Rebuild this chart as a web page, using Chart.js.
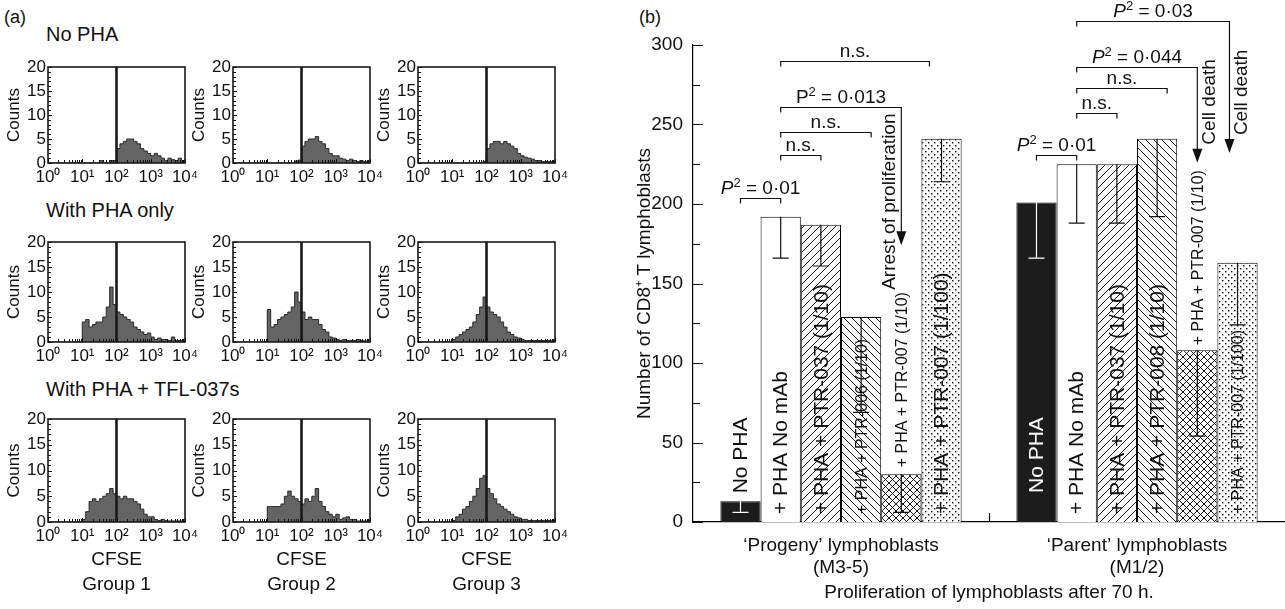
<!DOCTYPE html>
<html>
<head>
<meta charset="utf-8">
<script src="https://cdn.jsdelivr.net/npm/chart.js@4.4.1/dist/chart.umd.min.js"></script>
<style>
  html, body { margin: 0; padding: 0; background: #fff; }
  body { width: 1285px; height: 609px; position: relative; overflow: hidden;
         font-family: "Liberation Sans", Arial, Helvetica, sans-serif; color: #111; }
  canvas { position: absolute; }
  .txt { position: absolute; white-space: nowrap; line-height: 1; }
</style>
</head>
<body>
<script>
// ──────────────────────────────────────────────
// (a) CFSE histograms — 40 channels of 0.1 decade, 10^0 .. 10^4
// ──────────────────────────────────────────────
const rowTitles = ['No PHA', 'With PHA only', 'With PHA + TFL-037s'];
const groupNames = ['Group 1', 'Group 2', 'Group 3'];
const decadeTicks = ['10⁰', '10¹', '10²', '10³', '10⁴'];
const countTicks = [0, 5, 10, 15, 20];
const gateCFSE = 100;

const noPha1 = [0,0,0,0,0,0,0,0,0,0, 0,0,0,0,0,0.5,0,0,0.5,0.5, 3,4,4.5,5,5,4.5,4,3,2.5,2, 1.5,2,1.5,1,0.5,1,0.7,0.5,1,0.5];
const noPha2 = [0,0,0,0,0,0,0,0,0,0, 0,0,0,0,0,0,0,0,0.4,0.6, 3.5,4.5,5,5,5.5,4.5,4,3,2,1.5, 1.5,1,0.8,0.5,0.8,0.5,0.3,0.5,0.3,0.3];
const noPha3 = [0,0,0,0,0,0,0,0,0,0, 0,0,0,0,0,0,0,0,0,0.3, 3,4,4.5,4.5,4,4.5,4,3.5,3,2, 1.5,1.2,1,0.8,0.5,0.5,0.3,0.3,0.3,0.3];
const pha1   = [0,0,0,0,0,0,0,0,0,0, 4,4.5,3,3.5,4,4,5,7,11,7.5, 6,5.5,5,4.5,4,3,2.5,2,1.5,1.8, 1,0.5,0.8,0.5,0.5,0.3,1,0.3,0.3,0.3];
const pha2   = [0,0,0,0,0,0,0,0,0,0, 6.5,3,3.5,4.5,5,5.5,6,7,10,8, 6,4.5,5,4.5,4.5,3.5,2.5,2,1,0.8, 0.5,0.3,0.5,0.3,0.3,0.3,0.5,0.3,0.2,0.2];
const pha3   = [0,0,0,0,0,0,0,0,0,0, 0.5,1,1.5,2,2.5,3,4,5.5,7,9, 7,6,5.5,5,4,3,2,1.5,1,0.8, 0.5,0.3,0.3,0.3,0.3,0.3,0.3,0.3,0.3,0.3];
const tfl1   = [0,0,0,0,0,0,0,0,0,0, 0.5,2,4,4.5,4,4.5,5,5.5,6.5,5.5, 5,4.5,5,4.5,4.5,4,3.5,2.5,1.5,1, 1,0.5,0.3,0.5,0.3,0.2,0.2,0.2,0.2,0.2];
const tfl2   = [0,0,0,0,0,0,0,0,0,0, 3,3,3,3,3.5,5,6,5,4.5,4, 3.5,4.5,4,5,6.5,4,3,2,1.5,1, 1.5,0.5,0.8,1,0.5,0.5,0.2,0.2,0.2,0.2];
const tfl3   = [0,0,0,0,0,0,0,0,0,0, 0.3,1,1.5,2.5,3,4,5,6.5,8.5,9, 6.5,5.5,4.5,3.5,3,2.5,2,1.5,1,0.8, 0.5,0.5,0.3,0.3,0.3,0.3,0.3,0.3,0.3,0.3];
const histRows = [[noPha1, noPha2, noPha3], [pha1, pha2, pha3], [tfl1, tfl2, tfl3]];

// ──────────────────────────────────────────────
// (b) CD8+ T lymphoblast counts after 70 h
// ──────────────────────────────────────────────
const groupLabels = [['‘Progeny’ lymphoblasts', '(M3-5)'], ['‘Parent’ lymphoblasts', '(M1/2)']];
const progenyBars = ['No PHA', '+ PHA No mAb', '+ PHA + PTR-037 (1/10)', '+ PHA + PTR-006 (1/10)', '+ PHA + PTR-007 (1/10)', '+ PHA + PTR-007 (1/100)'];
const parentBars  = ['No PHA', '+ PHA No mAb', '+ PHA + PTR-037 (1/10)', '+ PHA + PTR-008 (1/10)', '+ PHA + PTR-007 (1/10)', '+ PHA + PTR-007 (1/100)'];
const progenyMean  = [13, 192, 187, 129, 30, 241];
const progenyLower = [6, 166, 161, 69, 6, 214];
const parentMean   = [201, 225, 225, 241, 108, 163];
const parentLower  = [166, 188, 188, 192, 54, 124];
const countTicksB = [0, 50, 100, 150, 200, 250, 300];

// significance brackets: group, from bar, to bar, height (counts)
const comparisons = [
  { group: 0, from: 0, to: 1,    at: 204, text: 'P² = 0·01', italic: true },
  { group: 0, from: 1, to: 2,    at: 231, text: 'n.s.' },
  { group: 0, from: 1, to: 3.25, at: 245, text: 'n.s.' },
  { group: 0, from: 1, to: 4,    at: 261, text: 'P² = 0·013', arrowTo: 174, note: 'Arrest of proliferation', side: -1, anchor: 'top' },
  { group: 0, from: 1, to: 4.7,  at: 290, text: 'n.s.' },
  { group: 1, from: 0, to: 1,    at: 231, text: 'P² = 0·01', italic: true },
  { group: 1, from: 1, to: 2,    at: 257, text: 'n.s.' },
  { group: 1, from: 1, to: 3.25, at: 273, text: 'n.s.' },
  { group: 1, from: 1, to: 4,    at: 286, text: 'P² = 0·044', italic: true, arrowTo: 226, note: 'Cell death', side: 1, anchor: 'tip' },
  { group: 1, from: 1, to: 4.8,  at: 315, text: 'P² = 0·03', italic: true, arrowTo: 232, note: 'Cell death', side: 1, anchor: 'tip' },
];

// label styling per bar (small font / sits on top of bar / gap in px)
const progenyLabelSmall = [false, false, false, true, true, false];
const progenyLabelAbove = [true, false, false, false, true, false];
const progenyLabelGap   = [8, 8, 8, 8, 7, 8];
const parentLabelSmall  = [false, false, false, false, true, true];
const parentLabelAbove  = [false, false, false, false, true, false];
const parentLabelGap    = [29, 8, 8, 8, 5, 8];

const FAMILY = '"Liberation Sans", Arial, Helvetica, sans-serif';
Chart.defaults.font.family = FAMILY;
Chart.defaults.color = '#111';

function text(str, x, y, size, center) {
  const d = document.createElement('div');
  d.className = 'txt';
  d.textContent = str;
  d.style.left = x + 'px';
  d.style.top = y + 'px';
  d.style.fontSize = size + 'px';
  d.style.transform = center ? 'translate(-50%,-50%)' : 'translateY(-50%)';
  document.body.appendChild(d);
}

function canvasAt(left, top, w, h) {
  const c = document.createElement('canvas');
  c.width = w; c.height = h;
  c.style.left = left + 'px'; c.style.top = top + 'px';
  document.body.appendChild(c);
  return c;
}

// inward tick marks
const innerTicks = {
  id: 'innerTicks',
  afterDraw(chart, args, o) {
    const { ctx, chartArea: a, scales } = chart;
    ctx.save();
    ctx.strokeStyle = '#111';
    ctx.lineWidth = o.width || 1;
    ctx.beginPath();
    if (o.y) scales.y.ticks.forEach((t, i) => {
      const p = Math.round(scales.y.getPixelForTick(i)) + 0.5;
      const len = t.label === '' ? o.y[1] : o.y[0];
      ctx.moveTo(a.left, p); ctx.lineTo(a.left + len, p);
    });
    if (o.x) scales.x.ticks.forEach((t, i) => {
      const p = Math.round(scales.x.getPixelForTick(i)) + 0.5;
      const len = t.label === '' ? o.x[1] : o.x[0];
      ctx.moveTo(p, a.bottom); ctx.lineTo(p, a.bottom - len);
    });
    ctx.stroke();
    ctx.restore();
  }
};

const frameAndGate = {
  id: 'frameAndGate',
  afterDraw(chart, args, o) {
    const { ctx, chartArea: a, scales } = chart;
    ctx.save();
    ctx.strokeStyle = '#1a1a1a';
    ctx.lineWidth = 1.6;
    ctx.strokeRect(a.left, a.top, a.width, a.height);
    const gx = scales.x.getPixelForValue(o.gate);
    ctx.lineWidth = 2.6;
    ctx.beginPath(); ctx.moveTo(gx, a.top); ctx.lineTo(gx, a.bottom); ctx.stroke();
    ctx.restore();
  }
};

const logTickValues = [];
for (let d = 0; d < 4; d++) for (let k = 1; k <= 9; k++) logTickValues.push(k * Math.pow(10, d));
logTickValues.push(1e4);

function histogram(canvas, counts) {
  const pts = counts.map((c, i) => ({ x: Math.pow(10, i / 10), y: c }));
  pts.push({ x: 1e4, y: counts[counts.length - 1] });
  return new Chart(canvas, {
    type: 'line',
    data: { datasets: [{ data: pts, stepped: 'before', fill: 'origin', backgroundColor: '#646464',
                         borderColor: '#2a2a2a', borderWidth: 1, pointRadius: 0 }] },
    options: {
      responsive: false, animation: false, devicePixelRatio: 1,
      layout: { padding: { top: 12, right: 16, left: 0, bottom: 0 } },
      plugins: { legend: { display: false }, tooltip: { enabled: false },
                 innerTicks: { x: [4, 3], y: [4, 3] }, frameAndGate: { gate: gateCFSE } },
      scales: {
        x: {
          type: 'logarithmic', min: 1, max: 1e4,
          afterBuildTicks: s => { s.ticks = logTickValues.map(v => ({ value: v })); },
          afterFit: s => { s.height = 26; s.paddingLeft = 0; s.paddingRight = 0; },
          grid: { display: false, drawTicks: false }, border: { display: false },
          ticks: { autoSkip: false, maxRotation: 0, padding: 4, font: { size: 17 },
                   callback: v => { const e = Math.round(Math.log10(v)); return Math.abs(Math.pow(10, e) - v) < 1e-9 ? decadeTicks[e] : ''; } }
        },
        y: {
          min: 0, max: 20,
          afterFit: s => { s.width = 46; s.paddingTop = 0; s.paddingBottom = 0; },
          grid: { display: false, drawTicks: false }, border: { display: false },
          ticks: { stepSize: 1, autoSkip: false, padding: 2, font: { size: 17 },
                   callback: v => countTicks.includes(v) ? String(v) : '' },
          title: { display: true, text: 'Counts', font: { size: 17 }, padding: { top: 2, bottom: 0 } }
        }
      }
    },
    plugins: [innerTicks, frameAndGate]
  });
}

// panel (a) layout
const colLeft = [48, 233, 418];
const plotW = 137;
const rowTop = [67, 242, 419];
const rowH = [96, 100, 103];
const titleY = [34, 210, 389];

text('(a)', 4, 17, 18);
histRows.forEach((row, r) => {
  text(rowTitles[r], 46, titleY[r], 20);
  row.forEach((counts, c) => {
    const cv = canvasAt(colLeft[c] - 46, rowTop[r] - 12, 46 + plotW + 16, 12 + rowH[r] + 26);
    histogram(cv, counts);
  });
});
groupNames.forEach((g, c) => {
  text('CFSE', colLeft[c] + plotW / 2, 558, 19, true);
  text(g, colLeft[c] + plotW / 2, 583, 19, true);
});

// ──────────────────────────────────────────────
// (b) bar chart
// ──────────────────────────────────────────────
function tile(kind, s) {
  const c = document.createElement('canvas');
  c.width = c.height = s;
  const g = c.getContext('2d');
  g.fillStyle = '#fff'; g.fillRect(0, 0, s, s);
  g.strokeStyle = '#000'; g.fillStyle = '#000'; g.lineWidth = 0.9;
  const fwd = () => { g.beginPath(); g.moveTo(-1, s + 1); g.lineTo(s + 1, -1); g.moveTo(-1, 1); g.lineTo(1, -1);
                      g.moveTo(s - 1, s + 1); g.lineTo(s + 1, s - 1); g.stroke(); };
  const back = () => { g.beginPath(); g.moveTo(-1, -1); g.lineTo(s + 1, s + 1); g.moveTo(s - 1, -1); g.lineTo(s + 1, 1);
                       g.moveTo(-1, s - 1); g.lineTo(1, s + 1); g.stroke(); };
  if (kind === 'fwd') fwd();
  if (kind === 'back') back();
  if (kind === 'cross') { fwd(); back(); }
  if (kind === 'dots') { g.fillRect(1, 1, 1.4, 1.4); g.fillRect(4, 4, 1.4, 1.4); }
  return g.createPattern(c, 'repeat');
}
const barFills = ['#1c1c1c', '#ffffff', tile('fwd', 8), tile('back', 8), tile('cross', 7), tile('dots', 6)];

function barX(chart, g, pos) {
  const i = Math.floor(pos), f = pos - i;
  const a = chart.getDatasetMeta(i).data[g];
  if (!f) return a.x;
  const b = chart.getDatasetMeta(Math.min(i + 1, 5)).data[g];
  return a.x + f * (b.x - a.x);
}

function drawStat(ctx, str, italic, cx, base) {
  ctx.textBaseline = 'alphabetic';
  ctx.textAlign = 'left';
  if (str.indexOf('P²') !== 0) {
    ctx.font = '19px ' + FAMILY;
    ctx.textAlign = 'center';
    ctx.fillText(str, cx, base);
    return;
  }
  const rest = str.slice(2);
  const fP = (italic ? 'italic ' : '') + '19px ' + FAMILY, fS = '13px ' + FAMILY, fR = '19px ' + FAMILY;
  ctx.font = fP; const wP = ctx.measureText('P').width;
  ctx.font = fS; const wS = ctx.measureText('2').width;
  ctx.font = fR; const wR = ctx.measureText(rest).width;
  let x = cx - (wP + wS + wR) / 2;
  ctx.font = fP; ctx.fillText('P', x, base); x += wP;
  ctx.font = fS; ctx.fillText('2', x, base - 7); x += wS;
  ctx.font = fR; ctx.fillText(rest, x, base);
}

const barNotes = {
  id: 'barNotes',
  afterDatasetsDraw(chart) {
    const { ctx, scales: { y } } = chart;
    const sets = [[progenyBars, progenyLabelSmall, progenyLabelAbove, progenyLabelGap, progenyLower],
                  [parentBars, parentLabelSmall, parentLabelAbove, parentLabelGap, parentLower]];
    sets.forEach(([names, small, above, gap, lower], g) => {
      names.forEach((name, i) => {
        const bar = chart.getDatasetMeta(i).data[g];
        ctx.save();
        ctx.font = (small[i] ? 16 : 21) + 'px ' + FAMILY;
        ctx.fillStyle = (i === 0 && !above[i]) ? '#fff' : '#111';
        ctx.translate(bar.x, (above[i] ? bar.y : bar.base) - gap[i]);
        ctx.rotate(-Math.PI / 2);
        ctx.textAlign = 'left';
        ctx.textBaseline = 'middle';
        ctx.fillText(name, 0, 1);
        ctx.restore();

        // lower error bar
        const yl = y.getPixelForValue(lower[i]);
        ctx.save();
        ctx.strokeStyle = i === 0 ? '#fff' : '#111';
        ctx.lineWidth = 1.2;
        ctx.beginPath();
        ctx.moveTo(bar.x, bar.y); ctx.lineTo(bar.x, yl);
        ctx.moveTo(bar.x - 8, yl); ctx.lineTo(bar.x + 8, yl);
        ctx.stroke();
        ctx.restore();
      });
    });
  },
  afterDraw(chart) {
    const { ctx, chartArea: a, scales: { x, y } } = chart;
    ctx.save();
    ctx.strokeStyle = '#111'; ctx.fillStyle = '#111'; ctx.lineWidth = 1.2;

    // inward ticks on the count axis
    ctx.beginPath();
    y.ticks.forEach((t, i) => {
      const p = Math.round(y.getPixelForTick(i)) + 0.5;
      ctx.moveTo(a.left, p); ctx.lineTo(a.left + (t.label === '' ? 7 : 10), p);
    });
    const mid = Math.round(x.getPixelForValue(0.5)) + 0.5;
    ctx.moveTo(mid, a.bottom); ctx.lineTo(mid, a.bottom - 9);
    ctx.stroke();

    comparisons.forEach(c => {
      const x1 = barX(chart, c.group, c.from), x2 = barX(chart, c.group, c.to);
      const yy = Math.round(y.getPixelForValue(c.at)) + 0.5;
      ctx.beginPath();
      ctx.moveTo(x1, yy + 5); ctx.lineTo(x1, yy); ctx.lineTo(x2, yy);
      let tip = null;
      if (c.arrowTo != null) {
        tip = y.getPixelForValue(c.arrowTo);
        ctx.lineTo(x2, tip - 10); ctx.stroke();
        ctx.beginPath();
        ctx.moveTo(x2 - 5, tip - 14); ctx.lineTo(x2 + 5, tip - 14); ctx.lineTo(x2, tip);
        ctx.closePath(); ctx.fill();
      } else {
        ctx.lineTo(x2, yy + 5); ctx.stroke();
      }
      drawStat(ctx, c.text, c.italic, (x1 + x2) / 2, yy - 5);
      if (c.note) {
        ctx.save();
        ctx.font = '19px ' + FAMILY;
        ctx.textBaseline = 'middle';
        if (c.anchor === 'top') {
          ctx.translate(x2 + c.side * 12, yy + 6);
          ctx.rotate(-Math.PI / 2);
          ctx.textAlign = 'right';
        } else {
          ctx.translate(x2 + c.side * 12, tip - 18);
          ctx.rotate(-Math.PI / 2);
          ctx.textAlign = 'left';
        }
        ctx.fillText(c.note, 0, 0);
        ctx.restore();
      }
    });
    ctx.restore();
  }
};

text('(b)', 639, 17, 18);
const cb = canvasAt(630, 0, 655, 609);
new Chart(cb, {
  type: 'bar',
  data: {
    labels: groupLabels,
    datasets: progenyMean.map((v, i) => ({
      data: [progenyMean[i], parentMean[i]],
      backgroundColor: barFills[i], borderColor: '#000', borderWidth: 1
    }))
  },
  options: {
    responsive: false, animation: false, devicePixelRatio: 1,
    layout: { padding: { top: 45, right: 0, left: 0, bottom: 0 } },
    datasets: { bar: { barPercentage: 1, categoryPercentage: 0.815 } },
    plugins: { legend: { display: false }, tooltip: { enabled: false } },
    scales: {
      x: {
        afterFit: s => { s.height = 87; s.paddingLeft = 0; s.paddingRight = 0; },
        grid: { display: false, drawTicks: false },
        border: { color: '#000', width: 1.2 },
        ticks: { padding: 12, font: { size: 19 }, maxRotation: 0 },
        title: { display: true, text: 'Proliferation of lymphoblasts after 70 h.', font: { size: 19 },
                 padding: { top: 0, bottom: 5 } }
      },
      y: {
        min: 0, max: 300,
        afterFit: s => { s.width = 63; s.paddingTop = 0; s.paddingBottom = 0; },
        grid: { display: false, drawTicks: false },
        border: { color: '#000', width: 1.2 },
        ticks: { stepSize: 25, autoSkip: false, padding: 10, font: { size: 19 },
                 callback: v => countTicksB.includes(v) ? String(v) : '' },
        title: { display: true, text: 'Number of CD8⁺ T lymphoblasts', font: { size: 19 },
                 padding: { top: 3, bottom: 0 } }
      }
    }
  },
  plugins: [barNotes]
});
</script>
</body>
</html>
